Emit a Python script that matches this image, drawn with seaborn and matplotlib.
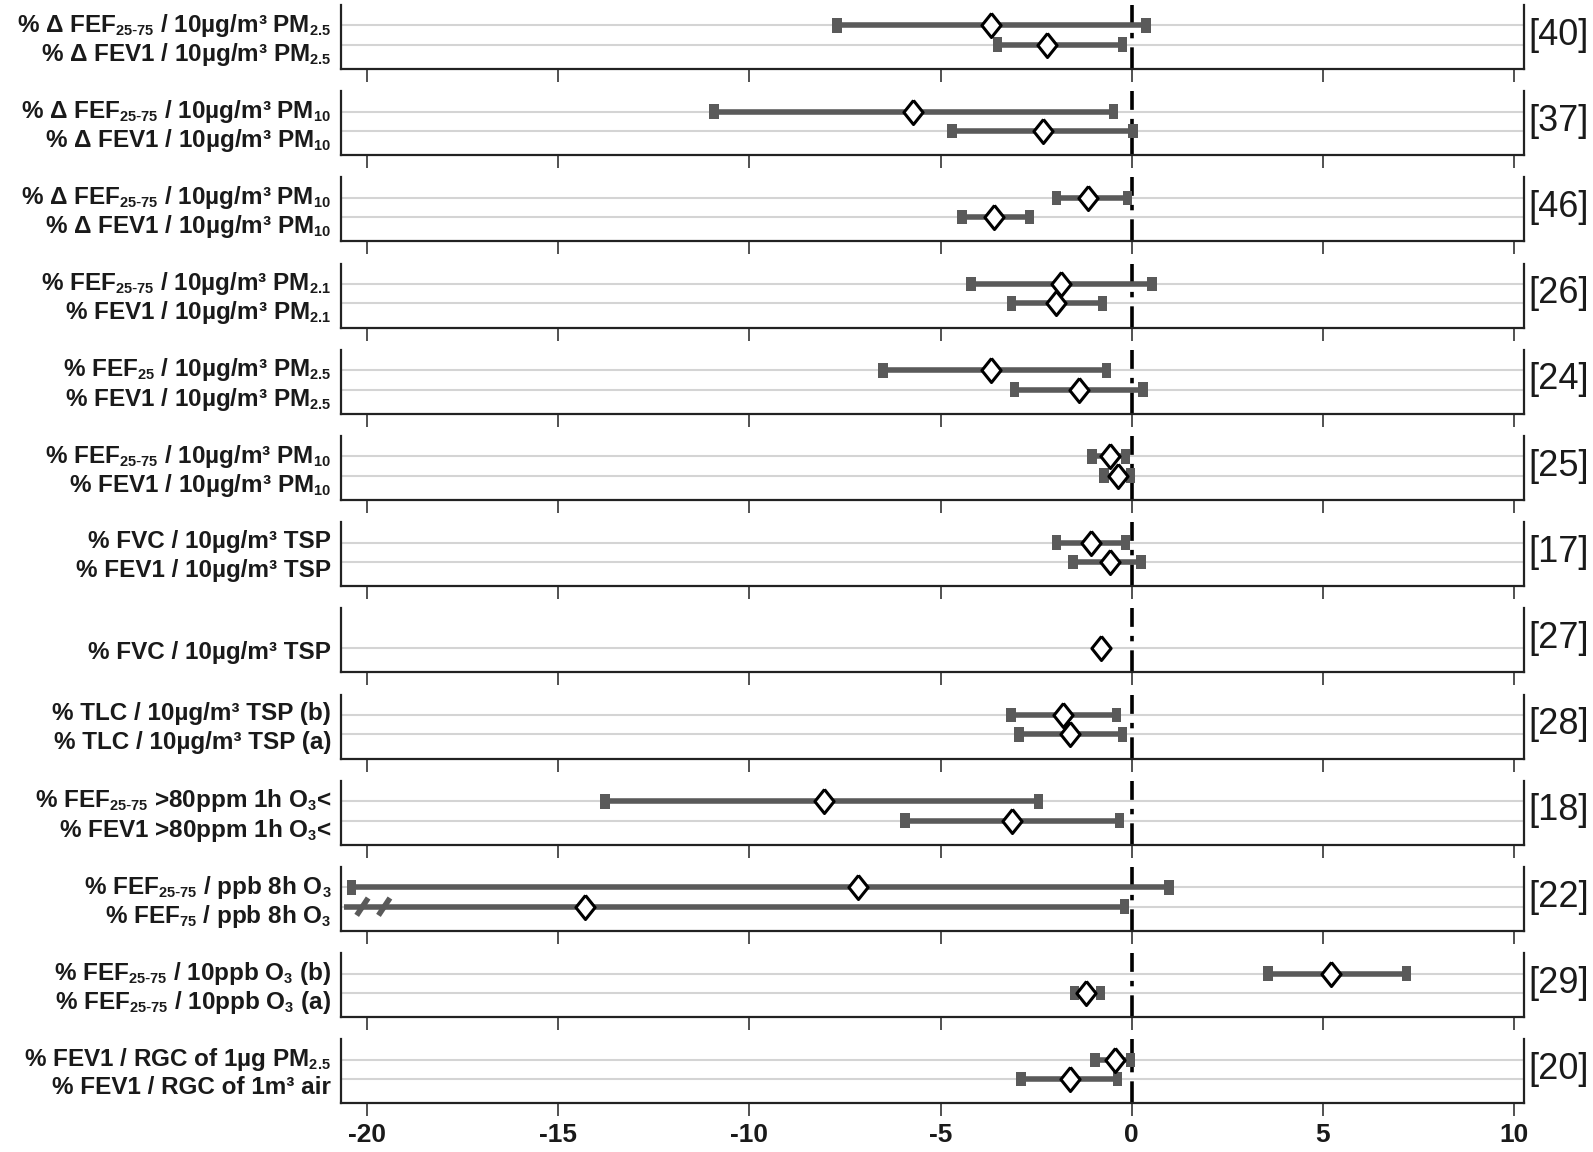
import numpy as np
import pandas as pd
import matplotlib
matplotlib.use("Agg")
import matplotlib.pyplot as plt
import matplotlib._mathtext as _mt
import seaborn as sns

# ---------------- data ----------------
refs = ['[40]', '[37]', '[46]', '[26]', '[24]', '[25]', '[17]', '[27]',
        '[28]', '[18]', '[22]', '[29]', '[20]']

H = r'\text{-}'
row_labels = [
    [r'% Δ FEF$_{25' + H + '75}$ / 10µg/m³ PM$_{2.5}$', r'% Δ FEV1 / 10µg/m³ PM$_{2.5}$'],
    [r'% Δ FEF$_{25' + H + '75}$ / 10µg/m³ PM$_{10}$', r'% Δ FEV1 / 10µg/m³ PM$_{10}$'],
    [r'% Δ FEF$_{25' + H + '75}$ / 10µg/m³ PM$_{10}$', r'% Δ FEV1 / 10µg/m³ PM$_{10}$'],
    [r'% FEF$_{25' + H + '75}$ / 10µg/m³ PM$_{2.1}$', r'% FEV1 / 10µg/m³ PM$_{2.1}$'],
    [r'% FEF$_{25}$ / 10µg/m³ PM$_{2.5}$', r'% FEV1 / 10µg/m³ PM$_{2.5}$'],
    [r'% FEF$_{25' + H + '75}$ / 10µg/m³ PM$_{10}$', r'% FEV1 / 10µg/m³ PM$_{10}$'],
    [r'% FVC / 10µg/m³ TSP', r'% FEV1 / 10µg/m³ TSP'],
    [None, r'% FVC / 10µg/m³ TSP'],
    [r'% TLC / 10µg/m³ TSP (b)', r'% TLC / 10µg/m³ TSP (a)'],
    [r'% FEF$_{25' + H + '75}$ >80ppm 1h O$_3$<', r'% FEV1 >80ppm 1h O$_3$<'],
    [r'% FEF$_{25' + H + '75}$ / ppb 8h O$_3$', r'% FEF$_{75}$ / ppb 8h O$_3$'],
    [r'% FEF$_{25' + H + '75}$ / 10ppb O$_3$ (b)', r'% FEF$_{25' + H + '75}$ / 10ppb O$_3$ (a)'],
    [r'% FEV1 / RGC of 1µg PM$_{2.5}$', r'% FEV1 / RGC of 1m³ air'],
]

est = [
    [-3.69, -2.21], [-5.71, -2.31], [-1.14, -3.59], [-1.86, -1.99],
    [-3.69, -1.38], [-0.56, -0.37], [-1.06, -0.58], [None, -0.80],
    [-1.81, -1.62], [-8.05, -3.14], [-7.15, -14.3], [5.21, -1.20],
    [-0.45, -1.62],
]
lower = [
    [-7.71, -3.51], [-10.92, -4.70], [-1.97, -4.44], [-4.20, -3.14],
    [-6.51, -3.06], [-1.04, -0.72], [-1.97, -1.54], [None, None],
    [-3.16, -2.95], [-13.77, -5.93], [-20.40, -20.60], [3.56, -1.49],
    [-0.96, -2.90],
]
upper = [
    [0.37, -0.24], [-0.48, 0.03], [-0.11, -2.68], [0.53, -0.77],
    [-0.66, 0.29], [-0.16, -0.03], [-0.16, 0.24], [None, None],
    [-0.40, -0.24], [-2.44, -0.32], [0.98, -0.19], [7.18, -0.82],
    [-0.03, -0.37],
]
# lower bound of FEF75 [22] is off-scale: axis break marks
break_group, break_row = 10, 2
break_x = [-20.12, -19.55]

xticks = [-20, -15, -10, -5, 0, 5, 10]

# ---------------- style ----------------
sns.set_theme(style='white')
plt.rcParams['font.family'] = ['Liberation Sans', 'DejaVu Sans']
plt.rcParams['mathtext.default'] = 'regular'
plt.rcParams['axes.unicode_minus'] = False
_mt.SHRINK_FACTOR = 0.6

W, Hpx = 1593, 1152
fig = plt.figure(figsize=(W / 100, Hpx / 100), dpi=100)

ax_left, ax_right = 341, 1524
pitch, ph, top0 = 86.2, 64, 5

line_col = '#5a5a5a'
grid_col = '#d4d4d4'
txt_col = '#1a1a1a'

diamond = [(0, 1), (0.8, 0), (0, -1), (-0.8, 0), (0, 1)]
rect = [(-0.65, -1), (0.65, -1), (0.65, 1), (-0.65, 1), (-0.65, -1)]
label_offset = {1: -0.2, 2: 0.32}

n = len(refs)
for i in range(n):
    top = top0 + pitch * i
    ax = fig.add_axes([ax_left / W, 1 - (top + ph) / Hpx,
                       (ax_right - ax_left) / W, ph / Hpx])

    rows, labs = [], []
    for r in range(2):
        if row_labels[i][r] is None:
            continue
        rows.append(r + 1)
        labs.append(row_labels[i][r])
    df = pd.DataFrame({
        'row': [r + 1 for r in range(2) if est[i][r] is not None],
        'est': [e for e in est[i] if e is not None],
    })
    ci = pd.DataFrame({
        'row': [r + 1 for r in range(2) if lower[i][r] is not None],
        'lo': [l for l in lower[i] if l is not None],
        'hi': [h for h in upper[i] if h is not None],
    })

    ax.set_xlim(-20.68, 10.26)
    ax.set_ylim(3.26, -0.06)

    for r in rows:
        ax.axhline(r, color=grid_col, lw=1.5, zorder=0)

    ax.axvline(0, color='black', lw=2.6, ls=(0, (6, 2.5, 1.5, 2.5)), zorder=1)

    if len(ci):
        ax.hlines(ci['row'], ci['lo'], ci['hi'], color=line_col, lw=4, zorder=2)
        ends = pd.DataFrame({'x': list(ci['lo']) + list(ci['hi']),
                             'row': list(ci['row']) * 2})
        if i == break_group:
            ends = ends[~((ends['x'] == lower[i][break_row - 1]) &
                          (ends['row'] == break_row))]
        sns.scatterplot(data=ends, x='x', y='row', ax=ax, marker=rect, s=110,
                        color=line_col, edgecolor='none', zorder=3, legend=False)
    if i == break_group:
        for bx in break_x:
            ax.plot([bx - 0.15, bx + 0.15], [break_row + 0.45, break_row - 0.45],
                    color=line_col, lw=4, solid_capstyle='butt', zorder=3)

    sns.scatterplot(data=df, x='est', y='row', ax=ax, marker=diamond, s=300,
                    facecolor='white', edgecolor='black', linewidth=2.2,
                    zorder=4, legend=False)

    ax.spines['top'].set_visible(False)
    for side in ['left', 'right', 'bottom']:
        ax.spines[side].set_visible(True)
        ax.spines[side].set_color('#222222')
        ax.spines[side].set_linewidth(1.6)
    ax.set_xticks(xticks)
    ax.tick_params(axis='x', direction='out', length=9, width=1.2,
                   color='#333333', bottom=True, labelbottom=(i == n - 1),
                   labelsize=19, pad=5, labelcolor=txt_col)
    if i == n - 1:
        for t in ax.get_xticklabels():
            t.set_fontweight('bold')
    lab_pos = [r + (label_offset[r] if len(rows) == 2 else 0.1) for r in rows]
    ax.set_yticks(lab_pos)
    ax.set_yticklabels(labs, fontsize=17.5, fontweight='bold', color=txt_col)
    ax.tick_params(axis='y', length=0, pad=7, left=False)
    ax.set_xlabel('')
    ax.set_ylabel('')
    ax.text(1.004, 1.5, refs[i], transform=ax.get_yaxis_transform(),
            ha='left', va='center', fontsize=26, color=txt_col)

fig.savefig('out.png', dpi=100)
